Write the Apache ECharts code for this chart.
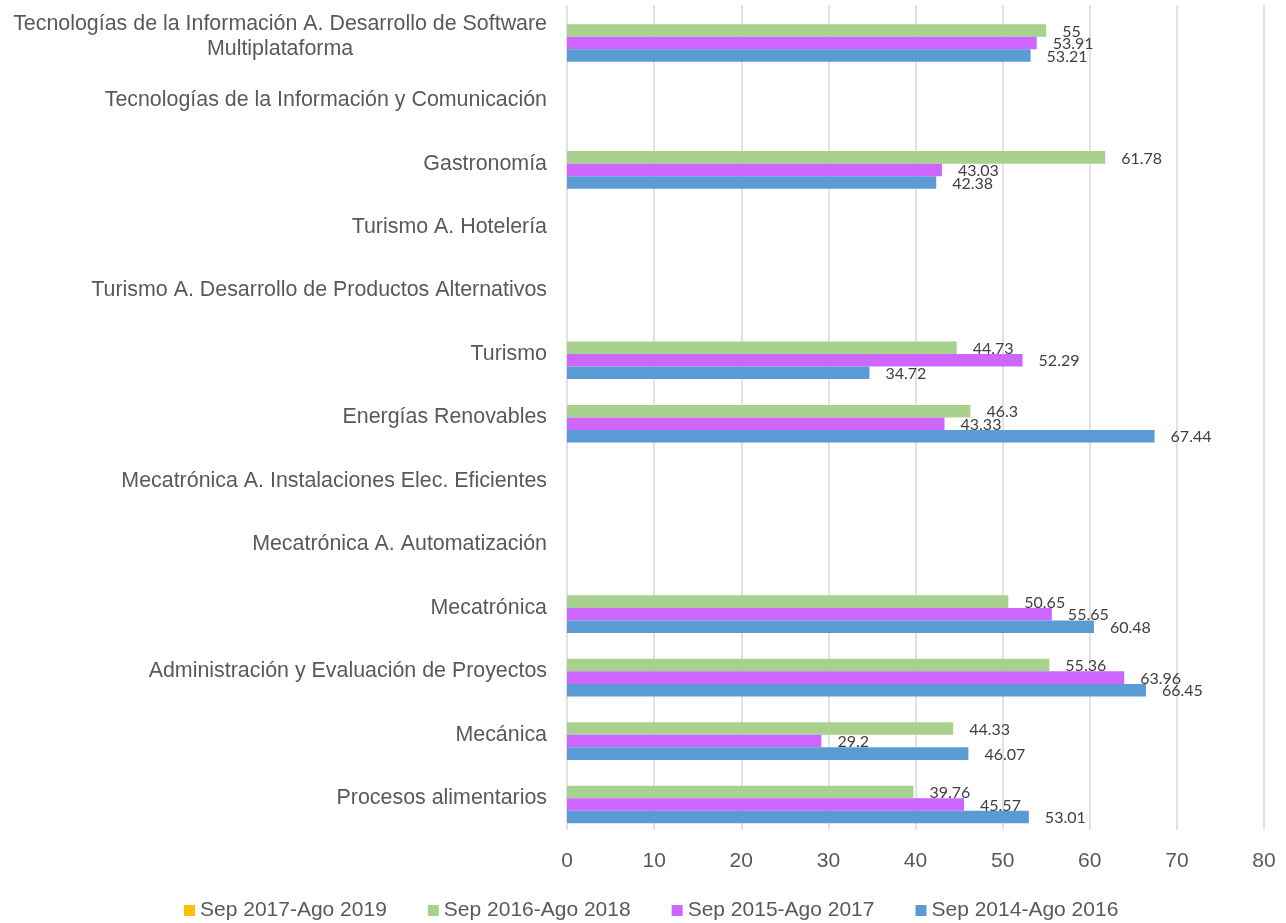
<!DOCTYPE html>
<html>
<head>
<meta charset="utf-8">
<script src="https://cdn.jsdelivr.net/npm/echarts@6/dist/echarts.min.js"></script>
<style>
  html, body { margin: 0; padding: 0; background: #ffffff; }
  #chart { width: 1286px; height: 923px; }
</style>
</head>
<body>
<div id="chart"></div>
<script>
// Categories, bottom to top
var categories = [
  'Procesos alimentarios',
  'Mecánica',
  'Administración y Evaluación de Proyectos',
  'Mecatrónica',
  'Mecatrónica A. Automatización',
  'Mecatrónica A. Instalaciones Elec. Eficientes',
  'Energías Renovables',
  'Turismo',
  'Turismo A. Desarrollo de Productos Alternativos',
  'Turismo A. Hotelería',
  'Gastronomía',
  'Tecnologías de la Información y Comunicación',
  'Tecnologías de la Información A. Desarrollo de Software Multiplataforma'
];

var seriesNames = ['Sep 2017-Ago 2019', 'Sep 2016-Ago 2018', 'Sep 2015-Ago 2017', 'Sep 2014-Ago 2016'];

var sep2017_2019 = [null, null, null, null, null, null, null, null, null, null, null, null, null];
var sep2016_2018 = [39.76, 44.33, 55.36, 50.65, null, null, 46.3, 44.73, null, null, 61.78, null, 55];
var sep2015_2017 = [45.57, 29.2, 63.96, 55.65, null, null, 43.33, 52.29, null, null, 43.03, null, 53.91];
var sep2014_2016 = [53.01, 46.07, 66.45, 60.48, null, null, 67.44, 34.72, null, null, 42.38, null, 53.21];

var xTicks = [0, 10, 20, 30, 40, 50, 60, 70, 80];

var colors = ['#FFC000', '#A9D18E', '#CC66FF', '#5B9BD5'];
var textFont = "'Liberation Sans', Arial, sans-serif";
var labelFont = "Lato, 'Open Sans', sans-serif";

function wrapLabel(name) {
  var maxLen = 56;
  var lines = [];
  var rest = name;
  while (rest.length > maxLen) {
    var cut = rest.lastIndexOf(' ', maxLen);
    if (cut <= 0) break;
    lines.push(rest.slice(0, cut));
    rest = rest.slice(cut + 1);
  }
  lines.push(rest);
  return lines.map(function (l) { return '{a|' + l + '}'; }).join('\n');
}

var seriesData = [sep2017_2019, sep2016_2018, sep2015_2017, sep2014_2016];

var series = seriesData.map(function (d, i) {
  return {
    name: seriesNames[i],
    type: 'bar',
    data: d,
    barGap: '0%',
    barCategoryGap: '21%',
    itemStyle: { color: colors[i] },
    label: {
      show: true,
      position: 'right',
      distance: 16,
      offset: [0, 1],
      color: '#404040',
      fontFamily: labelFont,
      fontSize: 16
    }
  };
});

var chart = echarts.init(document.getElementById('chart'), null, { renderer: 'canvas' });
chart.setOption({
  animation: false,
  backgroundColor: '#ffffff',
  grid: { left: 567, right: 22, top: 5, bottom: 93, containLabel: false },
  legend: {
    data: seriesNames,
    left: 184,
    top: 900,
    padding: 0,
    icon: 'rect',
    itemWidth: 11,
    itemHeight: 11,
    itemGap: 41,
    textStyle: { fontFamily: textFont, fontSize: 21, color: '#595959' }
  },
  xAxis: {
    type: 'value',
    min: xTicks[0],
    max: xTicks[xTicks.length - 1],
    interval: 10,
    axisLine: { show: false },
    axisTick: { show: false },
    splitLine: { show: true, lineStyle: { color: '#d9d9d9', width: 1.5 } },
    axisLabel: { fontFamily: textFont, fontSize: 21, color: '#595959', margin: 21 }
  },
  yAxis: {
    type: 'category',
    data: categories,
    axisLine: { show: false },
    axisTick: { show: false },
    splitLine: { show: false },
    axisLabel: {
      margin: 20,
      interval: 0,
      formatter: wrapLabel,
      rich: {
        a: { align: 'center', fontFamily: textFont, fontSize: 21.4, lineHeight: 25.5, color: '#595959' }
      }
    }
  },
  series: series
});
</script>
</body>
</html>
